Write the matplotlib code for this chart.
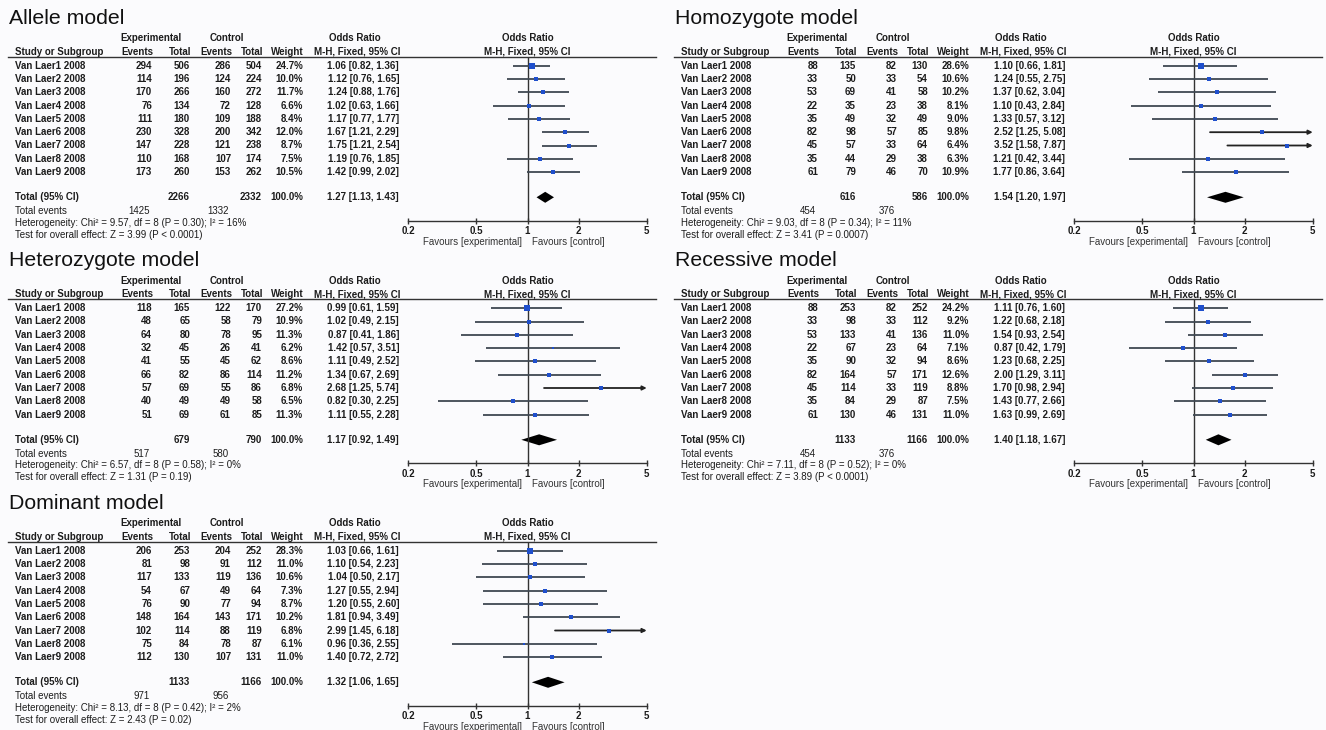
import numpy as np
import matplotlib
matplotlib.use('Agg')
import matplotlib.pyplot as plt
from matplotlib.ticker import NullLocator

plt.rcParams['font.family'] = ['Liberation Sans', 'DejaVu Sans']

# ---- data -------------------------------------------------------------
studies = ["Van Laer1 2008", "Van Laer2 2008", "Van Laer3 2008", "Van Laer4 2008",
           "Van Laer5 2008", "Van Laer6 2008", "Van Laer7 2008", "Van Laer8 2008",
           "Van Laer9 2008"]

allele_exp_ev = [294, 114, 170, 76, 111, 230, 147, 110, 173]
allele_exp_tot = [506, 196, 266, 134, 180, 328, 228, 168, 260]
allele_ctl_ev = [286, 124, 160, 72, 109, 200, 121, 107, 153]
allele_ctl_tot = [504, 224, 272, 128, 188, 342, 238, 174, 262]
allele_weight = [24.7, 10.0, 11.7, 6.6, 8.4, 12.0, 8.7, 7.5, 10.5]
allele_or = [1.06, 1.12, 1.24, 1.02, 1.17, 1.67, 1.75, 1.19, 1.42]
allele_lo = [0.82, 0.76, 0.88, 0.63, 0.77, 1.21, 1.21, 0.76, 0.99]
allele_hi = [1.36, 1.65, 1.76, 1.66, 1.77, 2.29, 2.54, 1.85, 2.02]
allele_total = [2266, 2332, 1425, 1332, 1.27, 1.13, 1.43]
allele_het = "Heterogeneity: Chi² = 9.57, df = 8 (P = 0.30); I² = 16%"
allele_test = "Test for overall effect: Z = 3.99 (P < 0.0001)"

homo_exp_ev = [88, 33, 53, 22, 35, 82, 45, 35, 61]
homo_exp_tot = [135, 50, 69, 35, 49, 98, 57, 44, 79]
homo_ctl_ev = [82, 33, 41, 23, 32, 57, 33, 29, 46]
homo_ctl_tot = [130, 54, 58, 38, 49, 85, 64, 38, 70]
homo_weight = [28.6, 10.6, 10.2, 8.1, 9.0, 9.8, 6.4, 6.3, 10.9]
homo_or = [1.10, 1.24, 1.37, 1.10, 1.33, 2.52, 3.52, 1.21, 1.77]
homo_lo = [0.66, 0.55, 0.62, 0.43, 0.57, 1.25, 1.58, 0.42, 0.86]
homo_hi = [1.81, 2.75, 3.04, 2.84, 3.12, 5.08, 7.87, 3.44, 3.64]
homo_total = [616, 586, 454, 376, 1.54, 1.20, 1.97]
homo_het = "Heterogeneity: Chi² = 9.03, df = 8 (P = 0.34); I² = 11%"
homo_test = "Test for overall effect: Z = 3.41 (P = 0.0007)"

hetero_exp_ev = [118, 48, 64, 32, 41, 66, 57, 40, 51]
hetero_exp_tot = [165, 65, 80, 45, 55, 82, 69, 49, 69]
hetero_ctl_ev = [122, 58, 78, 26, 45, 86, 55, 49, 61]
hetero_ctl_tot = [170, 79, 95, 41, 62, 114, 86, 58, 85]
hetero_weight = [27.2, 10.9, 11.3, 6.2, 8.6, 11.2, 6.8, 6.5, 11.3]
hetero_or = [0.99, 1.02, 0.87, 1.42, 1.11, 1.34, 2.68, 0.82, 1.11]
hetero_lo = [0.61, 0.49, 0.41, 0.57, 0.49, 0.67, 1.25, 0.30, 0.55]
hetero_hi = [1.59, 2.15, 1.86, 3.51, 2.52, 2.69, 5.74, 2.25, 2.28]
hetero_total = [679, 790, 517, 580, 1.17, 0.92, 1.49]
hetero_het = "Heterogeneity: Chi² = 6.57, df = 8 (P = 0.58); I² = 0%"
hetero_test = "Test for overall effect: Z = 1.31 (P = 0.19)"

rec_exp_ev = [88, 33, 53, 22, 35, 82, 45, 35, 61]
rec_exp_tot = [253, 98, 133, 67, 90, 164, 114, 84, 130]
rec_ctl_ev = [82, 33, 41, 23, 32, 57, 33, 29, 46]
rec_ctl_tot = [252, 112, 136, 64, 94, 171, 119, 87, 131]
rec_weight = [24.2, 9.2, 11.0, 7.1, 8.6, 12.6, 8.8, 7.5, 11.0]
rec_or = [1.11, 1.22, 1.54, 0.87, 1.23, 2.00, 1.70, 1.43, 1.63]
rec_lo = [0.76, 0.68, 0.93, 0.42, 0.68, 1.29, 0.98, 0.77, 0.99]
rec_hi = [1.60, 2.18, 2.54, 1.79, 2.25, 3.11, 2.94, 2.66, 2.69]
rec_total = [1133, 1166, 454, 376, 1.40, 1.18, 1.67]
rec_het = "Heterogeneity: Chi² = 7.11, df = 8 (P = 0.52); I² = 0%"
rec_test = "Test for overall effect: Z = 3.89 (P < 0.0001)"

dom_exp_ev = [206, 81, 117, 54, 76, 148, 102, 75, 112]
dom_exp_tot = [253, 98, 133, 67, 90, 164, 114, 84, 130]
dom_ctl_ev = [204, 91, 119, 49, 77, 143, 88, 78, 107]
dom_ctl_tot = [252, 112, 136, 64, 94, 171, 119, 87, 131]
dom_weight = [28.3, 11.0, 10.6, 7.3, 8.7, 10.2, 6.8, 6.1, 11.0]
dom_or = [1.03, 1.10, 1.04, 1.27, 1.20, 1.81, 2.99, 0.96, 1.40]
dom_lo = [0.66, 0.54, 0.50, 0.55, 0.55, 0.94, 1.45, 0.36, 0.72]
dom_hi = [1.61, 2.23, 2.17, 2.94, 2.60, 3.49, 6.18, 2.55, 2.72]
dom_total = [1133, 1166, 971, 956, 1.32, 1.06, 1.65]
dom_het = "Heterogeneity: Chi² = 8.13, df = 8 (P = 0.42); I² = 2%"
dom_test = "Test for overall effect: Z = 2.43 (P = 0.02)"

ticks = [0.2, 0.5, 1, 2, 5]
tick_labels = ["0.2", "0.5", "1", "2", "5"]

panels = [
    ("Allele model", allele_exp_ev, allele_exp_tot, allele_ctl_ev, allele_ctl_tot,
     allele_weight, allele_or, allele_lo, allele_hi, allele_total, allele_het, allele_test),
    ("Homozygote model", homo_exp_ev, homo_exp_tot, homo_ctl_ev, homo_ctl_tot,
     homo_weight, homo_or, homo_lo, homo_hi, homo_total, homo_het, homo_test),
    ("Heterozygote model", hetero_exp_ev, hetero_exp_tot, hetero_ctl_ev, hetero_ctl_tot,
     hetero_weight, hetero_or, hetero_lo, hetero_hi, hetero_total, hetero_het, hetero_test),
    ("Recessive model", rec_exp_ev, rec_exp_tot, rec_ctl_ev, rec_ctl_tot,
     rec_weight, rec_or, rec_lo, rec_hi, rec_total, rec_het, rec_test),
    ("Dominant model", dom_exp_ev, dom_exp_tot, dom_ctl_ev, dom_ctl_tot,
     dom_weight, dom_or, dom_lo, dom_hi, dom_total, dom_het, dom_test),
]

# ---- layout (pixels) --------------------------------------------------
W, H = 1326, 730
origins = [(0, 0), (666, 0), (0, 242.5), (666, 242.5), (0, 485)]
TXT = '#1c1c1c'
LINE = '#3f4852'
BLUE = '#1f4fcc'
fs = 7.0

fig = plt.figure(figsize=(W / 100, H / 100), dpi=100)
fig.patch.set_facecolor('#fbfbfd')
bg = fig.add_axes([0, 0, 1, 1])
bg.set_xlim(0, W)
bg.set_ylim(H, 0)
bg.axis('off')

row_y0, row_dy = 65.7, 13.3
cols = [152, 190, 231, 262, 303, 399]

for (title, eev, etot, cev, ctot, wt, orr, lo, hi, tot, het, test), (ox, oy) in zip(panels, origins):
    def T(x, y, s, ha='left', bold=True, size=fs):
        bg.text(ox + x, oy + y, s, ha=ha, va='center', fontsize=size, color=TXT,
                fontweight='bold' if bold else 'normal')

    bg.text(ox + 9, oy + 18.5, title, fontsize=15.3, va='center', color='#111111')
    T(151, 38.3, "Experimental", ha='center')
    T(227, 38.3, "Control", ha='center')
    T(355, 38.3, "Odds Ratio", ha='center')
    T(527.5, 38.3, "Odds Ratio", ha='center')
    T(15, 51.7, "Study or Subgroup")
    for x, s in zip(cols, ["Events", "Total", "Events", "Total", "Weight", "M-H, Fixed, 95% CI"]):
        T(x + 1, 51.7, s, ha='right')
    T(527.5, 51.7, "M-H, Fixed, 95% CI", ha='center')
    bg.plot([ox + 8, ox + 656], [oy + 56.5, oy + 56.5], color='#333333', lw=1.0)

    for i, name in enumerate(studies):
        y = row_y0 + row_dy * i
        T(15, y, name)
        vals = [str(eev[i]), str(etot[i]), str(cev[i]), str(ctot[i]), f"{wt[i]:.1f}%",
                f"{orr[i]:.2f} [{lo[i]:.2f}, {hi[i]:.2f}]"]
        for x, s in zip(cols, vals):
            T(x, y, s, ha='right')

    T(15, 197.3, "Total (95% CI)")
    T(cols[1], 197.3, str(tot[0]), ha='right')
    T(cols[3], 197.3, str(tot[1]), ha='right')
    T(cols[4], 197.3, "100.0%", ha='right')
    T(cols[5], 197.3, f"{tot[4]:.2f} [{tot[5]:.2f}, {tot[6]:.2f}]", ha='right')
    T(15, 211.3, "Total events", bold=False)
    T(cols[0] - 2, 211.3, str(tot[2]), ha='right', bold=False)
    T(cols[2] - 2, 211.3, str(tot[3]), ha='right', bold=False)
    T(15, 222.7, het, bold=False)
    T(15, 234.7, test, bold=False)

    # forest plot axes
    x0, x1 = ox + 408.3, ox + 646.7
    ytop, ybot = oy + 56.5, oy + 220.7
    ax = fig.add_axes([x0 / W, 1 - ybot / H, (x1 - x0) / W, (ybot - ytop) / H])
    ax.patch.set_alpha(0)
    ax.set_xscale('log')
    ax.set_xlim(0.2, 5)
    ax.set_ylim(220.7, 56.5)
    for sp in ['top', 'left', 'right']:
        ax.spines[sp].set_visible(False)
    ax.spines['bottom'].set_color('#333333')
    ax.spines['bottom'].set_linewidth(1.0)
    ax.xaxis.set_minor_locator(NullLocator())
    ax.set_xticks(ticks)
    ax.set_xticklabels(tick_labels, fontsize=fs, fontweight='bold', color=TXT)
    ax.tick_params(axis='x', direction='inout', length=5, width=1.0, color='#333333', pad=1.5)
    ax.set_yticks([])
    ax.axvline(1, color='#333333', lw=1.0)

    ys = row_y0 + row_dy * np.arange(len(studies))
    for y, o, l, h, w in zip(ys, orr, lo, hi, wt):
        if h > 5:
            ax.annotate('', xy=(5, y), xytext=(l, y),
                        arrowprops=dict(arrowstyle='-|>', color='#222222', lw=1.3,
                                        mutation_scale=6, shrinkA=0, shrinkB=0))
        else:
            ax.plot([l, h], [y, y], color=LINE, lw=1.3, solid_capstyle='butt')
        ax.plot(o, y, marker='s', color=BLUE, ms=1.6 + 0.09 * w, mew=0, ls='none', zorder=4)

    ty = 197.3
    ax.fill([tot[5], tot[4], tot[6], tot[4]], [ty, ty - 5.5, ty, ty + 5.5], color='black', lw=0)

    ax.annotate("Favours [experimental]", xy=(1, 241.7), xycoords='data', xytext=(-4, 0),
                textcoords='offset points', ha='right', va='center', fontsize=fs,
                color='#333333', annotation_clip=False)
    ax.annotate("Favours [control]", xy=(1, 241.7), xycoords='data', xytext=(3, 0),
                textcoords='offset points', ha='left', va='center', fontsize=fs,
                color='#333333', annotation_clip=False)

fig.savefig('out.png', dpi=100, facecolor=fig.get_facecolor())
